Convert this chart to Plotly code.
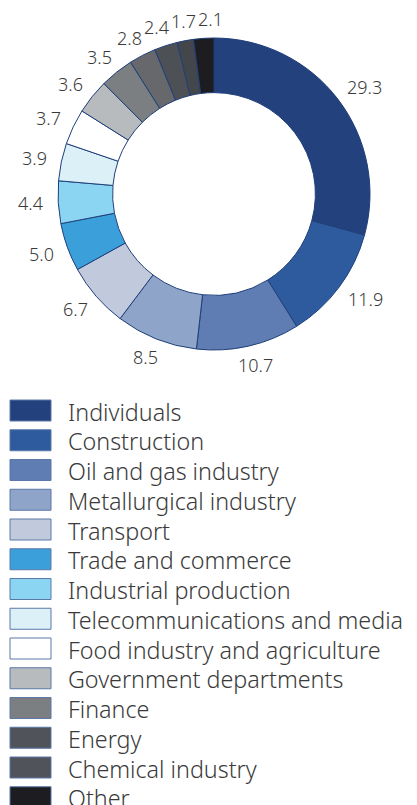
import math
import plotly.graph_objects as go

# Data
sectors = [
    "Individuals", "Construction", "Oil and gas industry", "Metallurgical industry",
    "Transport", "Trade and commerce", "Industrial production",
    "Telecommunications and media", "Food industry and agriculture",
    "Government departments", "Finance", "Other industries", "Energy",
    "Chemical industry", "Other",
]
shares = [29.3, 11.9, 10.7, 8.5, 6.7, 5.0, 4.4, 3.9, 3.7, 3.6, 3.5, 2.8, 2.4, 1.7, 2.1]
colors = [
    "#22417d", "#2e5b9e", "#5f7db3", "#8ea4c9", "#c1cadc", "#3b9fda", "#8cd5f2",
    "#dcf0f8", "#ffffff", "#b8bbbe", "#7c7f81", "#66686b", "#4d5055", "#43464b",
    "#1c1c21",
]
legend_names = [
    "Individuals", "Construction", "Oil and gas industry", "Metallurgical industry",
    "Transport", "Trade and commerce", "Industrial production",
    "Telecommunications and media", "Food industry and agriculture",
    "Government departments", "Finance", "Energy", "Chemical industry", "Other",
]
legend_colors = [
    "#22417d", "#2e5b9e", "#5f7db3", "#8ea4c9", "#c1cadc", "#3b9fda", "#8cd5f2",
    "#dcf0f8", "#ffffff", "#b8bbbe", "#7c7f81", "#50535a", "#50535a", "#1c1c21",
]

W, H = 417, 805
FONT = "Noto Sans"
TXT = "#3a3a3a"
LABEL_SIZE = 18
LEGEND_SIZE = 23.3

# geometry in figure pixels (page adds an 8px body margin)
CX, CY, R = 206, 186, 156

fig = go.Figure()
fig.add_trace(go.Pie(
    labels=sectors,
    values=shares,
    textinfo="none",
    sort=False,
    direction="clockwise",
    rotation=0,
    hole=0.65,
    marker=dict(colors=colors, line=dict(color="#1f3f7a", width=1)),
    domain=dict(x=[(CX - R) / W, (CX + R) / W], y=[1 - (CY + R) / H, 1 - (CY - R) / H]),
    showlegend=False,
    hoverinfo="label+value",
))

# value labels placed outside the ring, from the slice mid-angles
total = sum(shares)
RA = 171
def text_w(s):
    return sum(0.27 if c == "." else 0.572 for c in s) * LABEL_SIZE

boxes = []
cum = 0.0
for v in shares:
    ang = math.radians((cum + v / 2) / total * 360)
    cum += v
    s = f"{v:.1f}"
    w = text_w(s)
    h = LABEL_SIZE * 0.5
    x = CX + RA * math.sin(ang) + math.sin(ang) * w / 2
    y = CY - RA * math.cos(ang) - math.cos(ang) * h / 2
    boxes.append([x, y, w, h, s])

for i in range(1, len(boxes)):
    a, b = boxes[i - 1], boxes[i]
    ox = (a[2] + b[2]) / 2 + 1 - abs(b[0] - a[0])
    oy = (a[3] + b[3]) / 2 - abs(b[1] - a[1])
    if ox > 0 and oy > 0:
        b[0] += ox if b[0] >= a[0] else -ox

annotations = []
for x, y, w, h, s in boxes:
    annotations.append(dict(
        xref="paper", yref="paper", x=x / W, y=1 - y / H,
        xanchor="center", yanchor="middle", text=s, showarrow=False,
        borderpad=0,
        font=dict(family=FONT, size=LABEL_SIZE, color=TXT, weight=300),
    ))

shapes = []
top0 = 392
step = 29.75
sw_h = 21
for i, (name, col) in enumerate(zip(legend_names, legend_colors)):
    top = top0 + i * step
    shapes.append(dict(
        type="rect", xref="paper", yref="paper",
        x0=2 / W, x1=43 / W, y0=1 - (top + sw_h) / H, y1=1 - top / H,
        fillcolor=col, line=dict(color="#5a78a8", width=1),
    ))
    annotations.append(dict(
        xref="paper", yref="paper", x=59 / W, y=1 - (top + sw_h / 2 + 1) / H,
        xanchor="left", yanchor="middle", text=name, showarrow=False,
        borderpad=0,
        font=dict(family=FONT, size=LEGEND_SIZE, color=TXT, weight=300),
    ))

fig.update_layout(
    width=W, height=H,
    margin=dict(l=0, r=0, t=0, b=0, autoexpand=False),
    paper_bgcolor="white", plot_bgcolor="white",
    shapes=shapes, annotations=annotations,
)
fig.write_html("out.html")
